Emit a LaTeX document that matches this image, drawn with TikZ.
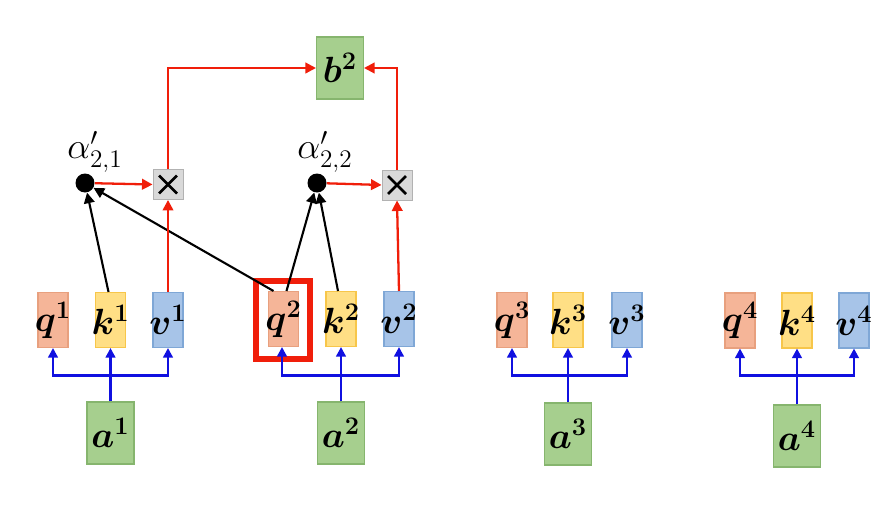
\documentclass[tikz,border=0pt]{standalone}
\usepackage{amsmath,bm}
\usetikzlibrary{arrows.meta}
\definecolor{qf}{HTML}{F5B598}
\definecolor{qd}{HTML}{E8A07E}
\definecolor{kf}{HTML}{FFDF85}
\definecolor{kd}{HTML}{F7C64A}
\definecolor{vf}{HTML}{A7C4E8}
\definecolor{vd}{HTML}{7FA7D6}
\definecolor{gf}{HTML}{A6CF8E}
\definecolor{gd}{HTML}{86B56E}
\definecolor{rl}{HTML}{F01E0A}
\definecolor{bl}{HTML}{1010E0}
\newcommand{\fitbx}[1]{\makebox[0.56cm]{$#1$}}
\begin{document}
\begin{tikzpicture}[x=0.02cm,y=-0.02cm,
  box/.style={draw, line width=0.6pt, minimum width=0.6cm, minimum height=1.1cm, inner sep=0pt, font=\fontsize{21}{24}\selectfont},
  qbox/.style={box, fill=qf, draw=qd},
  kbox/.style={box, fill=kf, draw=kd},
  vbox/.style={box, fill=vf, draw=vd},
  gbox/.style={box, fill=gf, draw=gd, minimum width=0.94cm, minimum height=1.24cm},
  dotnode/.style={circle, fill=black, inner sep=0pt, minimum size=0.38cm},
  mul/.style={draw=gray!60, fill=gray!30, line width=0.5pt, minimum size=0.6cm, inner sep=0pt,
    path picture={
      \draw[draw=black, line width=1.6pt] ([shift={(0.12cm,0.12cm)}]path picture bounding box.south west) -- ([shift={(-0.12cm,-0.12cm)}]path picture bounding box.north east);
      \draw[draw=black, line width=1.6pt] ([shift={(0.12cm,-0.12cm)}]path picture bounding box.north west) -- ([shift={(-0.12cm,0.12cm)}]path picture bounding box.south east);
    }},
  redarr/.style={draw=rl, line width=1.3pt, -{Triangle[length=6pt,width=6pt]}},
  bluearr/.style={draw=bl, line width=1.6pt, -{Triangle[length=5.5pt,width=5.5pt]}},
  blkarr/.style={draw=black, line width=1.2pt, -{Triangle[length=6pt,width=6pt]}},
  lbl/.style={inner sep=0pt, font=\fontsize{20}{24}\selectfont}
]
\useasboundingbox (0,0) rectangle (896,514);

% q k v boxes
\node[qbox] (q1) at (53,320) {\fitbx{\bm{q}^{\bm{1}}}};
\node[kbox] (k1) at (110.5,320) {\fitbx{\bm{k}^{\bm{1}}}};
\node[vbox] (v1) at (168,320) {\fitbx{\bm{v}^{\bm{1}}}};
\node[qbox] (q2) at (283.5,319) {\fitbx{\bm{q}^{\bm{2}}}};
\node[kbox] (k2) at (341,319) {\fitbx{\bm{k}^{\bm{2}}}};
\node[vbox] (v2) at (399,319) {\fitbx{\bm{v}^{\bm{2}}}};
\node[qbox] (q3) at (512,320) {\fitbx{\bm{q}^{\bm{3}}}};
\node[kbox] (k3) at (568,320) {\fitbx{\bm{k}^{\bm{3}}}};
\node[vbox] (v3) at (627,320) {\fitbx{\bm{v}^{\bm{3}}}};
\node[qbox] (q4) at (740,320.5) {\fitbx{\bm{q}^{\bm{4}}}};
\node[kbox] (k4) at (797,320.5) {\fitbx{\bm{k}^{\bm{4}}}};
\node[vbox] (v4) at (854,320.5) {\fitbx{\bm{v}^{\bm{4}}}};

% highlight
\node[draw=rl, line width=3.4pt, minimum width=1.08cm, minimum height=1.56cm, inner sep=0pt] (hl) at (283,320) {};

% inputs
\node[gbox] (a1) at (110.5,433) {$\bm{a}^{\bm{1}}$};
\node[gbox] (a2) at (341,433) {$\bm{a}^{\bm{2}}$};
\node[gbox] (a3) at (568,434) {$\bm{a}^{\bm{3}}$};
\node[gbox] (a4) at (797,436) {$\bm{a}^{\bm{4}}$};

% output
\node[gbox] (b2) at (340,68) {$\bm{b}^{\bm{2}}$};

% attention dots and multipliers
\node[dotnode] (d1) at (85,183) {};
\node[dotnode] (d2) at (317,183) {};
\node[lbl] (l1) at (95,152) {$\alpha'_{2,1}$};
\node[lbl] (l2) at (325,152) {$\alpha'_{2,2}$};
\node[mul] (m1) at (168,184.5) {};
\node[mul] (m2) at (397,185) {};

% blue connectors
\foreach \i in {1,2,3,4}{
  \draw[bluearr] (a\i.north) -- (k\i.south);
}
\draw[bluearr] (a1.north) ++(0,-26) -| (q1.south);
\draw[bluearr] (a1.north) ++(0,-26) -| (v1.south);
\draw[bluearr] (a2.north) ++(0,-26) -| ([xshift=-0.03cm]q2.south);
\draw[bluearr] (a2.north) ++(0,-26) -| (v2.south);
\draw[bluearr] (a3.north) ++(0,-27) -| (q3.south);
\draw[bluearr] (a3.north) ++(0,-27) -| (v3.south);
\draw[bluearr] (a4.north) ++(0,-29) -| (q4.south);
\draw[bluearr] (a4.north) ++(0,-29) -| (v4.south);

% black connectors
\draw[blkarr] ([xshift=-0.04cm]k1.north) -- (d1);
\draw[blkarr] ([xshift=-0.2cm]q2.north) -- (d1);
\draw[blkarr] ([xshift=0.06cm]q2.north) -- (d2);
\draw[blkarr] ([xshift=-0.06cm]k2.north) -- (d2);

% red connectors
\draw[redarr] (v1.north) -- (m1.south);
\draw[redarr] (v2.north) -- (m2.south);
\draw[redarr] (d1) -- (m1.west);
\draw[redarr] (d2) -- (m2.west);
\draw[redarr] (m1.north) |- (b2.west);
\draw[redarr] (m2.north) |- (b2.east);
\end{tikzpicture}
\end{document}
